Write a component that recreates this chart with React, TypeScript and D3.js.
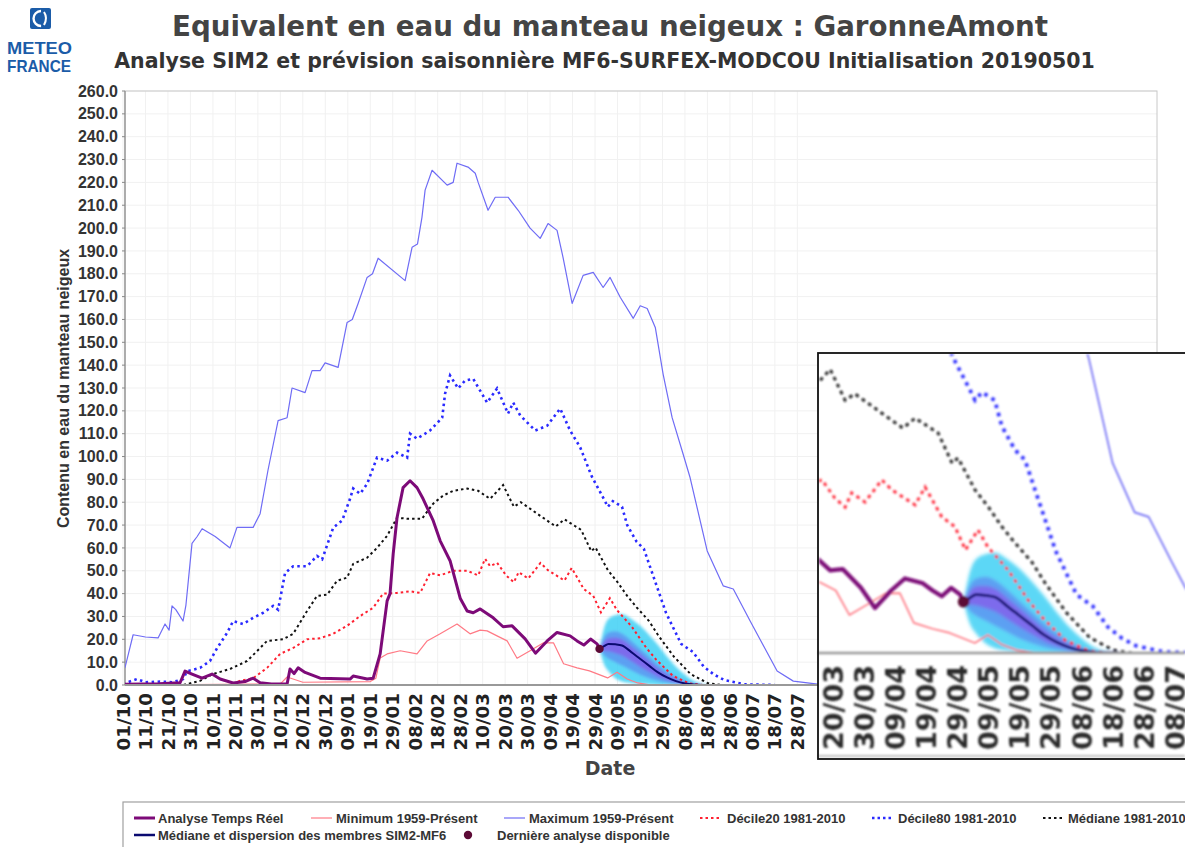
import React from "react";
import * as d3 from "d3";

type Pt = [number, number];

// ---------- tick labels ----------
const xTickLabels = [
  "01/10", "11/10", "21/10", "31/10", "10/11", "20/11", "30/11", "10/12", "20/12", "30/12",
  "09/01", "19/01", "29/01", "08/02", "18/02", "28/02", "10/03", "20/03", "30/03", "09/04",
  "19/04", "29/04", "09/05", "19/05", "29/05", "08/06", "18/06", "28/06", "08/07", "18/07", "28/07",
];
const insetTickLabels = [
  "20/03", "30/03", "09/04", "19/04", "29/04", "09/05", "19/05", "29/05", "08/06", "18/06", "28/06", "08/07",
];
const insetFirstTickDay = 170;
const yTickValues = [0, 10, 20, 30, 40, 50, 60, 70, 80, 90, 100, 110, 120, 130, 140, 150, 160, 170, 180, 190, 200, 210, 220, 230, 240, 250, 260];

// ---------- data: [day since 01/10, mm] ----------
const maximum: Pt[] = [
  [0, 6], [1, 8], [4.5, 22], [10, 21], [15.6, 20.6], [18.7, 26.7], [20.5, 24], [21.8, 34.6], [23.5, 33], [26.7, 28],
  [28, 35], [30.7, 62], [33, 65], [35.2, 68.4], [41, 65], [47.6, 60], [50.7, 69], [57.9, 69], [61, 75], [64.5, 94],
  [69, 115.7], [73, 117], [75.2, 130], [81, 128], [84.1, 137.6], [87.7, 137.6], [89.9, 141], [95.7, 139], [99.7, 158.7],
  [102, 160], [104.6, 167], [108.6, 178.4], [111, 180], [113.5, 186.8], [125.5, 177], [128.6, 191.6], [131, 193],
  [133, 204.7], [134.4, 216.6], [137.5, 225.3], [144.2, 218.8], [146.9, 220], [148.6, 228.4], [153.5, 226.7],
  [156.7, 224], [158, 220], [162.4, 207.8], [165.6, 213.5], [171.3, 213.5], [175.8, 207.8], [181.1, 200],
  [185.6, 195.5], [189.1, 202], [193.1, 199], [195.8, 187], [199.8, 167], [204.7, 179.3], [209.2, 180.6],
  [213.6, 174], [216.7, 178.4], [221.2, 169.7], [227, 160.5], [230.1, 166], [233.2, 164.8], [236.8, 156.5],
  [240.3, 136], [244.3, 117], [249.2, 101], [252.3, 90.7], [259.9, 58.7], [267, 43.4], [271.5, 42], [279, 28],
  [291, 6.1], [298.2, 1.7], [309, 0.4], [320, 0], [460, 0],
];

const decile80: Pt[] = [
  [0, 0.5], [6.2, 2.6], [10, 1.2], [16.5, 1.5], [22, 1.2], [26.7, 2.6], [28.5, 6], [34.3, 7.5], [38.7, 10.5],
  [41.8, 16], [46.3, 22.8], [49, 28], [53.4, 26.7], [57.9, 29.4], [62.3, 31.6], [66.8, 34.6], [69, 33], [72.1, 49],
  [75.7, 52], [81.9, 52], [86.3, 56.5], [88.6, 55], [93.5, 68.8], [97.5, 72], [101, 81.5], [102.4, 86], [105.5, 83.7],
  [108.6, 88], [113, 99.5], [117.5, 98.2], [121.9, 101.7], [126.4, 99.5], [127.7, 110], [130.8, 107.8],
  [136.6, 111.4], [142, 117], [143.3, 127.6], [145.5, 135.5], [149.1, 129.8], [152.2, 133.3], [155.8, 134],
  [162, 123.6], [166.4, 129.8], [171.3, 118.8], [173.6, 123.6], [176.7, 118], [183.4, 111.4], [188.7, 113.5],
  [194.5, 121], [198.9, 111.4], [203.4, 104], [208.5, 91.4], [213.6, 82], [215.7, 78], [217.9, 80.5], [222, 78],
  [224.3, 70], [228.5, 62.7], [231.7, 59.6], [237.2, 44], [241.6, 31.5], [248.3, 18], [253.5, 14.5], [258.4, 8],
  [263, 4.5], [267.5, 2.2], [276.7, 0.3], [290, 0],
];

const median8110: Pt[] = [
  [0, 0], [26.7, 0], [34.3, 1.8], [40, 4.8], [47.6, 7], [55.2, 10.5], [61, 16.2], [64.1, 19.3], [71.2, 20],
  [75.7, 22.4], [81.9, 32.4], [86.3, 39], [90.8, 39.5], [95.2, 45.6], [99.7, 47], [102.4, 53], [108.6, 55.7],
  [113, 60], [117.5, 65.3], [121.9, 73.2], [126.4, 72.8], [133, 72.8], [138, 79.4], [142.4, 82.9], [146.9, 85],
  [153.1, 86], [158, 85], [163.3, 81.5], [169.1, 87.5], [173.9, 78], [177, 80], [185.7, 74], [192.5, 69.4],
  [196.4, 72.5], [203.8, 67.9], [208.3, 58.6], [210.2, 60.2], [215.7, 50.3], [220, 45], [224.3, 39], [228.5, 34],
  [234, 28], [238.2, 21.6], [245, 12.5], [252.5, 4.8], [260, 0.9], [266, 0],
];

const decile20: Pt[] = [
  [0, 0], [47.6, 0], [52, 1.8], [57.9, 3], [64.1, 7.5], [69.9, 13.6], [75.7, 16.2], [81.9, 20], [87.7, 20.5],
  [93.5, 22.4], [99.7, 25.9], [105.5, 30.2], [111.3, 33.8], [115.7, 40], [121.9, 40.3], [127.7, 41], [132.2, 40.3],
  [136.6, 49], [141.1, 48], [146.9, 50], [153.1, 50], [158, 48], [161.1, 55.2], [163.3, 52], [166.4, 53.5],
  [170.6, 47.8], [173.9, 45], [176, 49.4], [180.3, 46.6], [185.7, 53.4], [189, 50.3], [196.4, 45.7], [199.6, 51.2],
  [205, 42], [209.2, 39], [212.6, 31.8], [216.6, 38], [219.8, 32.7], [226.3, 25.6], [232.7, 16.4], [237.2, 11.1],
  [244.6, 4], [252, 0.7], [258, 0],
];

const minimum: Pt[] = [
  [0, 0], [70, 0.5], [73, 3.5], [76, 2.5], [80, 1.2], [110, 1.5], [112.5, 3], [114.4, 11.8], [117.5, 13.6],
  [123.3, 15], [130.8, 13.6], [135.3, 19.3], [141.1, 22.4], [148.6, 26.7], [154.4, 22.4], [158.9, 24], [162, 23.7],
  [166.4, 21.5], [170.9, 19.3], [175.3, 11.7], [181.1, 15], [186.9, 18.4], [191.5, 18.5], [196, 9.3], [202, 7.5],
  [207.5, 6.2], [215.6, 3.1], [219.8, 5.6], [224.3, 2.6], [229, 0.9], [235, 0],
];

const analyseTempsReel: Pt[] = [
  [0, 0.3], [16, 0.5], [25.4, 1], [27.6, 6.1], [30.7, 4.8], [35.2, 3], [39.6, 4.8], [43.2, 2.6], [49, 0.9],
  [54.3, 1.5], [57.9, 3], [61, 1], [66, 0.4], [73, 0.4], [74.3, 7], [76.1, 5], [77.9, 7.5], [81, 5.5], [87.7, 3],
  [101, 2.6], [102.4, 3.9], [108.6, 2.6], [111.3, 3], [114.4, 13.6], [117.5, 36.8], [118.8, 40], [120.2, 57.4],
  [121.9, 73.2], [124.6, 86.4], [127.7, 89.4], [130.8, 86.4], [133.5, 81.5], [138, 71.9], [141.1, 63.1],
  [145.5, 54.4], [150, 38], [153.1, 32.4], [155.8, 31.6], [158.9, 33.3], [164.7, 29.4], [169.1, 25.5],
  [173.1, 25.9], [178.9, 20.2], [183.5, 13.9], [188.7, 19.3], [193.1, 23], [198.9, 21.5], [202, 19.3],
  [205, 17.5], [208, 20.1], [210.9, 18], [212, 15.8],
];

const lastAnalysis: Pt = [212, 15.8];

// ---------- SIM2-MF6 forecast (median and dispersion) ----------
const fcDays = [212, 214, 216, 219, 222, 226, 230, 234, 238, 242, 246, 250, 254, 258, 262];
const fcMedian = [15.8, 17, 18, 17.8, 17.3, 14.5, 11.5, 8.5, 5.5, 3.3, 1.7, 0.7, 0.2, 0, 0];
const fcQ95 = [15.8, 25, 29, 30.5, 31, 29, 26, 22, 17.5, 12.5, 8, 4.5, 1.8, 0.5, 0];
const fcQ75 = [15.8, 21, 23, 23.5, 22.5, 19.5, 16, 12.5, 9, 6, 3.5, 1.8, 0.6, 0.1, 0];
const fcQ25 = [15.8, 13, 11.5, 10, 8.5, 6.5, 4.5, 3, 1.8, 1, 0.4, 0.1, 0, 0, 0];
const fcQ05 = [15.8, 9, 6, 3, 1.5, 0.8, 0.4, 0.2, 0, 0, 0, 0, 0, 0, 0];

// ---------- styles ----------
const C = {
  analyse: "#7d0a78",
  min: "#ff7a85",
  max: "#6f6cf5",
  d20: "#ff2030",
  d80: "#2a2aff",
  med: "#111111",
  fc: "#0a0a70",
  dot: "#5c0a36",
  cyan: "#3fd0f5",
  mid: "#5f8ff2",
  inner: "#8a55e8",
};

const SANS = "'Liberation Sans', Arial, sans-serif";
const DJV = "'DejaVu Sans', Verdana, sans-serif";

type Scale = d3.ScaleLinear<number, number>;

function Lines({ sx, sy, k }: { sx: Scale; sy: Scale; k: number }) {
  const line = d3.line<Pt>().x((d) => sx(d[0])).y((d) => sy(d[1]));
  const band = (lo: number[], hi: number[]) =>
    d3
      .area<number>()
      .x((_, i) => sx(fcDays[i]))
      .y0((_, i) => sy(lo[i]))
      .y1((_, i) => sy(hi[i]))
      .curve(d3.curveMonotoneX)(fcDays) || "";
  const fcLine = d3
    .line<number>()
    .x((_, i) => sx(fcDays[i]))
    .y((d) => sy(d))
    .curve(d3.curveMonotoneX);
  const dash = (a: number[]) => a.map((v) => v * k).join(",");
  return (
    <g>
      <g filter="url(#fuzzy)">
        <path d={band(fcQ05, fcQ95)} fill={C.cyan} opacity={0.85} />
        <path d={band(fcQ25, fcQ75)} fill={C.mid} opacity={0.75} />
        <path d={band(fcQ25.map((v, i) => (v + fcMedian[i]) / 2), fcMedian.map((v, i) => (v + fcQ75[i]) / 2))} fill={C.inner} opacity={0.7} />
      </g>
      <path d={line(maximum) || ""} fill="none" stroke={C.max} strokeWidth={1.2 * k} strokeLinejoin="round" />
      <path d={line(minimum) || ""} fill="none" stroke={C.min} strokeWidth={1.2 * k} strokeLinejoin="round" />
      <path d={line(decile80) || ""} fill="none" stroke={C.d80} strokeWidth={2.6 * k} strokeDasharray={dash([2.5, 3.5])} />
      <path d={line(median8110) || ""} fill="none" stroke={C.med} strokeWidth={2 * k} strokeDasharray={dash([2.5, 3])} />
      <path d={line(decile20) || ""} fill="none" stroke={C.d20} strokeWidth={2 * k} strokeDasharray={dash([2.5, 3])} />
      <path d={line(analyseTempsReel) || ""} fill="none" stroke={C.analyse} strokeWidth={3 * k} strokeLinejoin="round" />
      <path d={fcLine(fcMedian) || ""} fill="none" stroke={C.fc} strokeWidth={2 * k} />
      <circle cx={sx(lastAnalysis[0])} cy={sy(lastAnalysis[1])} r={4.2 * k} fill={C.dot} />
    </g>
  );
}

export default function App() {
  // main plot
  const L = 125, T = 91, R = 1157, B = 685;
  const x = d3.scaleLinear().domain([0, 460]).range([123, 1157]);
  const y = d3.scaleLinear().domain([0, 260]).range([B, T]);

  // inset (enlarged view)
  const IL = 818, IT = 353, IB = 653, IBOT = 759;
  const xi = d3.scaleLinear().domain([170, 280]).range([833, 833 + 3.11 * 110]);
  const yi = d3.scaleLinear().domain([0, 90]).range([IB, IB - 3.24 * 90]);

  const legendRow1 = [
    { x0: 134, tx: 158, label: "Analyse Temps Réel", kind: "analyse" },
    { x0: 311, tx: 336, label: "Minimum 1959-Présent", kind: "min" },
    { x0: 504, tx: 529, label: "Maximum 1959-Présent", kind: "max" },
    { x0: 700, tx: 727, label: "Décile20 1981-2010", kind: "d20" },
    { x0: 872, tx: 898, label: "Décile80 1981-2010", kind: "d80" },
    { x0: 1043, tx: 1068, label: "Médiane 1981-2010", kind: "med" },
  ];
  const legendRow2 = [
    { x0: 134, tx: 158, label: "Médiane et dispersion des membres SIM2-MF6", kind: "fc" },
    { x0: 458, tx: 497, label: "Dernière analyse disponible", kind: "dot" },
  ];
  const swatch = (kind: string, x0: number, cy: number) => {
    const x1 = x0 + 21;
    switch (kind) {
      case "analyse":
        return <line x1={x0} x2={x1} y1={cy} y2={cy} stroke={C.analyse} strokeWidth={3} />;
      case "min":
        return <line x1={x0} x2={x1} y1={cy} y2={cy} stroke={C.min} strokeWidth={1.2} />;
      case "max":
        return <line x1={x0} x2={x1} y1={cy} y2={cy} stroke={C.max} strokeWidth={1.2} />;
      case "d20":
        return <line x1={x0} x2={x1} y1={cy} y2={cy} stroke={C.d20} strokeWidth={2} strokeDasharray="2.5,3" />;
      case "d80":
        return <line x1={x0} x2={x1} y1={cy} y2={cy} stroke={C.d80} strokeWidth={2.4} strokeDasharray="2.5,3" />;
      case "med":
        return <line x1={x0} x2={x1} y1={cy} y2={cy} stroke={C.med} strokeWidth={2} strokeDasharray="2.5,3" />;
      case "fc":
        return <line x1={x0} x2={x1} y1={cy} y2={cy} stroke={C.fc} strokeWidth={2.5} />;
      default:
        return <circle cx={x0 + 10} cy={cy} r={4.2} fill={C.dot} />;
    }
  };

  return (
    <svg
      width={1185}
      height={847}
      viewBox="0 0 1185 847"
      style={{ position: "absolute", left: 0, top: 0, display: "block", background: "#fff" }}
    >
      <defs>
        <clipPath id="mainClip">
          <rect x={L} y={T} width={R - L} height={B - T} />
        </clipPath>
        <clipPath id="insetClip">
          <rect x={IL + 1} y={IT + 1} width={1185 - IL} height={IB - IT - 1} />
        </clipPath>
        <filter id="fuzzy" x="-20%" y="-20%" width="140%" height="140%">
          <feGaussianBlur stdDeviation="1.6" />
        </filter>
        <filter id="soft" x="-5%" y="-5%" width="110%" height="110%">
          <feGaussianBlur stdDeviation="0.85" />
        </filter>
      </defs>
      <rect x={0} y={0} width={1185} height={847} fill="#fff" />

      {/* logo */}
      <g>
        <rect x={30} y={8} width={21} height={21} rx={2} fill="#1b5ca8" />
        <path d="M41 11 a7.5 7.5 0 1 0 0.1 15" fill="none" stroke="#fff" strokeWidth={2.4} />
        <path d="M44 12 q4 6 0 13" fill="none" stroke="#fff" strokeWidth={2} />
        <text x={7} y={54} fontFamily={SANS} fontWeight="bold" fontSize={16.5} fill="#1b5ca8" textLength={65} lengthAdjust="spacingAndGlyphs">METEO</text>
        <text x={7} y={71.5} fontFamily={SANS} fontWeight="bold" fontSize={16.5} fill="#1b5ca8" textLength={64} lengthAdjust="spacingAndGlyphs">FRANCE</text>
      </g>

      {/* titles */}
      <text x={610} y={36} textAnchor="middle" fontFamily={DJV} fontWeight="bold" fontSize={27.7} fill="#444">
        Equivalent en eau du manteau neigeux : GaronneAmont
      </text>
      <text x={604.5} y={68} textAnchor="middle" fontFamily={DJV} fontWeight="bold" fontSize={20.5} fill="#333">
        Analyse SIM2 et prévision saisonnière MF6-SURFEX-MODCOU Initialisation 20190501
      </text>

      {/* grid */}
      <g stroke="#f1f1f1" strokeWidth={1}>
        {yTickValues.map((v) => (
          <line key={"gy" + v} x1={L} x2={R} y1={y(v)} y2={y(v)} />
        ))}
        {xTickLabels.map((_, i) => (
          <line key={"gx" + i} x1={x(i * 10)} x2={x(i * 10)} y1={T} y2={B} />
        ))}
      </g>

      {/* frame */}
      <rect x={L} y={T} width={R - L} height={B - T} fill="none" stroke="#c8c8c8" strokeWidth={1} />
      <line x1={L} x2={L} y1={T} y2={B} stroke="#888" strokeWidth={1.2} />

      {/* series */}
      <g clipPath="url(#mainClip)">
        <Lines sx={x} sy={y} k={1} />
      </g>
      <line x1={L} x2={R} y1={B} y2={B} stroke="#999" strokeWidth={2} />

      {/* y axis */}
      <g fontFamily={SANS} fontWeight="bold" fontSize={16} fill="#333" textAnchor="end">
        {yTickValues.map((v) => (
          <g key={"yt" + v}>
            <line x1={L - 3} x2={L} y1={y(v)} y2={y(v)} stroke="#888" />
            <text x={118} y={y(v)} dy="0.35em">{v.toFixed(1)}</text>
          </g>
        ))}
      </g>
      <text
        transform={`translate(68.5,388.5) rotate(-90)`}
        textAnchor="middle"
        fontFamily={SANS}
        fontWeight="bold"
        fontSize={16}
        fill="#333"
      >
        Contenu en eau du manteau neigeux
      </text>

      {/* x axis */}
      <g fontFamily={DJV} fontWeight="bold" fontSize={18.3} fill="#222" textAnchor="end">
        {xTickLabels.map((lab, i) => (
          <text key={"xt" + i} transform={`translate(${x(i * 10)},693) rotate(-90)`} dy="0.36em">
            {lab}
          </text>
        ))}
      </g>
      <text x={610} y={775} textAnchor="middle" fontFamily={DJV} fontWeight="bold" fontSize={19} fill="#444">
        Date
      </text>

      {/* inset */}
      <g>
        <rect x={IL} y={IT} width={420} height={IBOT - IT} fill="#fff" />
        <g filter="url(#soft)">
          <g clipPath="url(#insetClip)">
            <Lines sx={xi} sy={yi} k={1.4} />
          </g>
          <line x1={IL} x2={1185} y1={IB} y2={IB} stroke="#999" strokeWidth={2.6} />
          <g fontFamily={DJV} fontWeight="bold" fontSize={27} fill="#2a2a2a" textAnchor="end">
            {insetTickLabels.map((lab, i) => (
              <text key={"it" + i} transform={`translate(${xi(insetFirstTickDay + i * 10)},665) rotate(-90)`} dy="0.36em">
                {lab}
              </text>
            ))}
          </g>
          <line x1={IL} x2={1185} y1={IBOT - 3} y2={IBOT - 3} stroke="#aaa" strokeWidth={1.5} />
        </g>
        <rect x={IL} y={IT} width={420} height={IBOT - IT} fill="none" stroke="#111" strokeWidth={1.8} />
      </g>

      {/* legend */}
      <rect x={123} y={802} width={1100} height={70} fill="#fff" stroke="#a0a0a0" strokeWidth={1.2} />
      <g fontFamily={SANS} fontWeight="bold" fontSize={13} fill="#333">
        {legendRow1.map((it) => (
          <g key={it.label}>
            {swatch(it.kind, it.x0, 818)}
            <text x={it.tx} y={822.5}>{it.label}</text>
          </g>
        ))}
        {legendRow2.map((it) => (
          <g key={it.label}>
            {swatch(it.kind, it.x0, 835)}
            <text x={it.tx} y={839.5}>{it.label}</text>
          </g>
        ))}
      </g>
    </svg>
  );
}
